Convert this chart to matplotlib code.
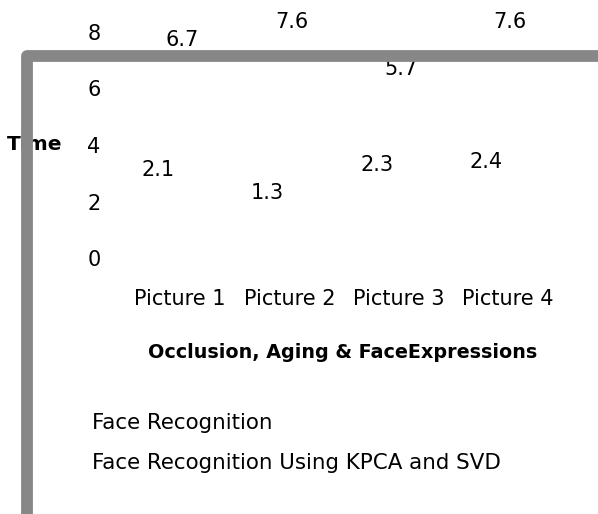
import numpy as np
import matplotlib
matplotlib.use("Agg")
import matplotlib.pyplot as plt
from matplotlib.lines import Line2D
from matplotlib.patches import Patch

plt.rcParams['font.family'] = ['DejaVu Sans']

categories = ['Picture 1', 'Picture 2', 'Picture 3', 'Picture 4']
face_rec = [2.1, 1.3, 2.3, 2.4]
kpca_svd = [6.7, 7.6, 5.7, 7.6]
series_names = ['Face Recognition', 'Face Recognition Using KPCA and SVD']
yticks = [0, 2, 4, 6, 8]

W, H = 598, 514
fig = plt.figure(figsize=(W / 100, H / 100), dpi=100)
# axes: x centres 180..508 px, y 0 at 258 px, 8 at 32 px
x0 = 180 - 109 / 2
x1 = 508 + 109 / 2
ax = fig.add_axes([x0 / W, (H - 258) / H, (x1 - x0) / W, (258 - 32) / H])

x = np.arange(len(categories))
fs = 15
# the bars come out invisible in the original, only their labels show
b1 = ax.bar(x - 0.2, face_rec, 0.2, color='none')
b2 = ax.bar(x + 0.02, kpca_svd, 0.2, color='none')
for xs, vals in [(x - 0.2, face_rec), (x + 0.02, kpca_svd)]:
    for xi, v in zip(xs, vals):
        ax.text(xi, min(v + 1.0, 8.35), str(v), ha='center', va='center',
                fontsize=fs, clip_on=False, zorder=1)

ax.set_xlim(-0.5, 3.5)
ax.set_ylim(0, 8)
ax.set_yticks(yticks)
ax.set_xticks(x)
ax.set_xticklabels(categories)
ax.tick_params(axis='both', length=0, labelsize=fs)
ax.tick_params(axis='y', pad=18)
ax.tick_params(axis='x', pad=22)
for s in ax.spines.values():
    s.set_visible(False)
ax.patch.set_alpha(0)

fig.text(7 / W, 1 - 145 / H, 'Time', fontsize=14.5, fontweight='bold', va='center', ha='left')
fig.text(343 / W, 1 - 353 / H, 'Occlusion, Aging & FaceExpressions', fontsize=13.8,
         fontweight='bold', ha='center', va='center')

handles = [Patch(facecolor='none', edgecolor='none') for _ in series_names]
fig.legend(handles, series_names, loc='upper left', bbox_to_anchor=(92 / W, 1 - 413 / H),
           frameon=False, fontsize=15.4, handlelength=0, handletextpad=0, labelspacing=0.95,
           borderpad=0, borderaxespad=0)

# grey frame of the chart area
fig.add_artist(Line2D([27 / W, 27 / W, 1.02], [-0.02, 1 - 56 / H, 1 - 56 / H],
                      transform=fig.transFigure, color='#878787', lw=8.5,
                      solid_joinstyle='round', solid_capstyle='butt', zorder=5))

fig.savefig('out.png', dpi=100)
